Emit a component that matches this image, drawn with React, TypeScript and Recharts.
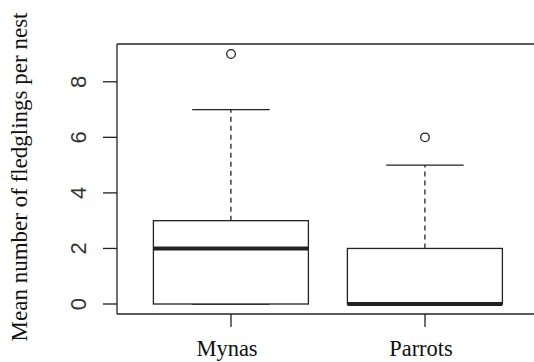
import React from "react";
import {
  ComposedChart,
  Bar,
  Scatter,
  XAxis,
  YAxis,
  ReferenceLine,
  Label,
} from "recharts";

// box plot stats
const groups = ["Mynas", "Parrots"];
const lowerWhisker = [0, 0];
const lowerQuartile = [0, 0];
const medians = [2, 0];
const upperQuartile = [3, 2];
const upperWhisker = [7, 5];
const outliers = [9, 6];
const yTicks = [0, 2, 4, 6, 8];

const rows = groups.map((name, i) => ({
  name,
  lo: lowerWhisker[i],
  q1: lowerQuartile[i],
  med: medians[i],
  q3: upperQuartile[i],
  hi: upperWhisker[i],
  range: [lowerWhisker[i], upperWhisker[i]],
  outlier: outliers[i],
}));

const INK = "#222";

// draws the whole box from the range bar (lo..hi) that recharts positions
const BoxShape = (props: any) => {
  const { x, y, width, height, payload } = props;
  const { lo, q1, med, q3, hi } = payload;
  const top = Math.min(y, y + height);
  const h = Math.abs(height);
  const unit = h / (hi - lo);
  const py = (v: number) => top + h - (v - lo) * unit;
  const cx = x + width / 2;
  const cap = width / 4;
  return (
    <g>
      <line x1={cx} x2={cx} y1={py(q3)} y2={py(hi)} stroke={INK} strokeWidth={1.3} strokeDasharray="5 4" />
      <line x1={cx} x2={cx} y1={py(q1)} y2={py(lo)} stroke={INK} strokeWidth={1.3} strokeDasharray="5 4" />
      <line x1={cx - cap} x2={cx + cap} y1={py(hi)} y2={py(hi)} stroke={INK} strokeWidth={1.3} />
      <line x1={cx - cap} x2={cx + cap} y1={py(lo)} y2={py(lo)} stroke={INK} strokeWidth={1.3} />
      <rect x={x} y={py(q3)} width={width} height={py(q1) - py(q3)} fill="#fff" stroke={INK} strokeWidth={1.3} />
      <line x1={x} x2={x + width} y1={py(med)} y2={py(med)} stroke={INK} strokeWidth={4} />
    </g>
  );
};

const OutlierDot = (props: any) => (
  <circle cx={props.cx} cy={props.cy} r={4.3} fill="none" stroke={INK} strokeWidth={1.3} />
);

const YTick = (props: any) => {
  const { y, payload } = props;
  return (
    <text
      x={0}
      y={0}
      transform={`translate(86, ${y}) rotate(-90)`}
      textAnchor="middle"
      fontFamily="'Liberation Sans', Arial, sans-serif"
      fontSize={22}
      fill="#333"
    >
      {payload.value}
    </text>
  );
};

const XTick = (props: any) => {
  const { x, payload } = props;
  return (
    <text x={x - 4} y={356} textAnchor="middle" fontFamily="'Liberation Serif', 'Times New Roman', serif" fontSize={22.5} fill="#111">
      {payload.value}
    </text>
  );
};

export default function App() {
  return (
    <div
      style={{
        position: "fixed",
        left: 0,
        top: 0,
        width: 534,
        height: 362,
        overflow: "hidden",
        background: "#fff",
      }}
    >
      <ComposedChart
        width={560}
        height={362}
        data={rows}
        margin={{ top: 44, right: 22, bottom: 0, left: 0 }}
        barCategoryGap="10%"
      >
        <XAxis
          dataKey="name"
          height={48}
          padding={{ left: 17, right: 16 }}
          tickSize={13}
          tickLine={{ stroke: INK, strokeWidth: 1.3 }}
          axisLine={{ stroke: INK, strokeWidth: 1.3 }}
          tick={<XTick />}
          interval={0}
        />
        <YAxis
          type="number"
          width={117}
          domain={[-0.36, 9.36]}
          ticks={yTicks}
          allowDataOverflow
          tickSize={14}
          tickLine={{ stroke: INK, strokeWidth: 1.3 }}
          axisLine={{ stroke: INK, strokeWidth: 1.3 }}
          tick={<YTick />}
        >
          <Label
            content={() => (
              <text
                x={0}
                y={0}
                transform="translate(27, 177) rotate(-90)"
                textAnchor="middle"
                fontFamily="'Liberation Serif', 'Times New Roman', serif"
                fontSize={23}
                fill="#111"
              >
                Mean number of fledglings per nest
              </text>
            )}
          />
        </YAxis>
        <ReferenceLine y={9.36} stroke={INK} strokeWidth={1.3} />
        <Bar dataKey="range" shape={<BoxShape />} isAnimationActive={false} />
        <Scatter dataKey="outlier" shape={<OutlierDot />} isAnimationActive={false} />
      </ComposedChart>
    </div>
  );
}
